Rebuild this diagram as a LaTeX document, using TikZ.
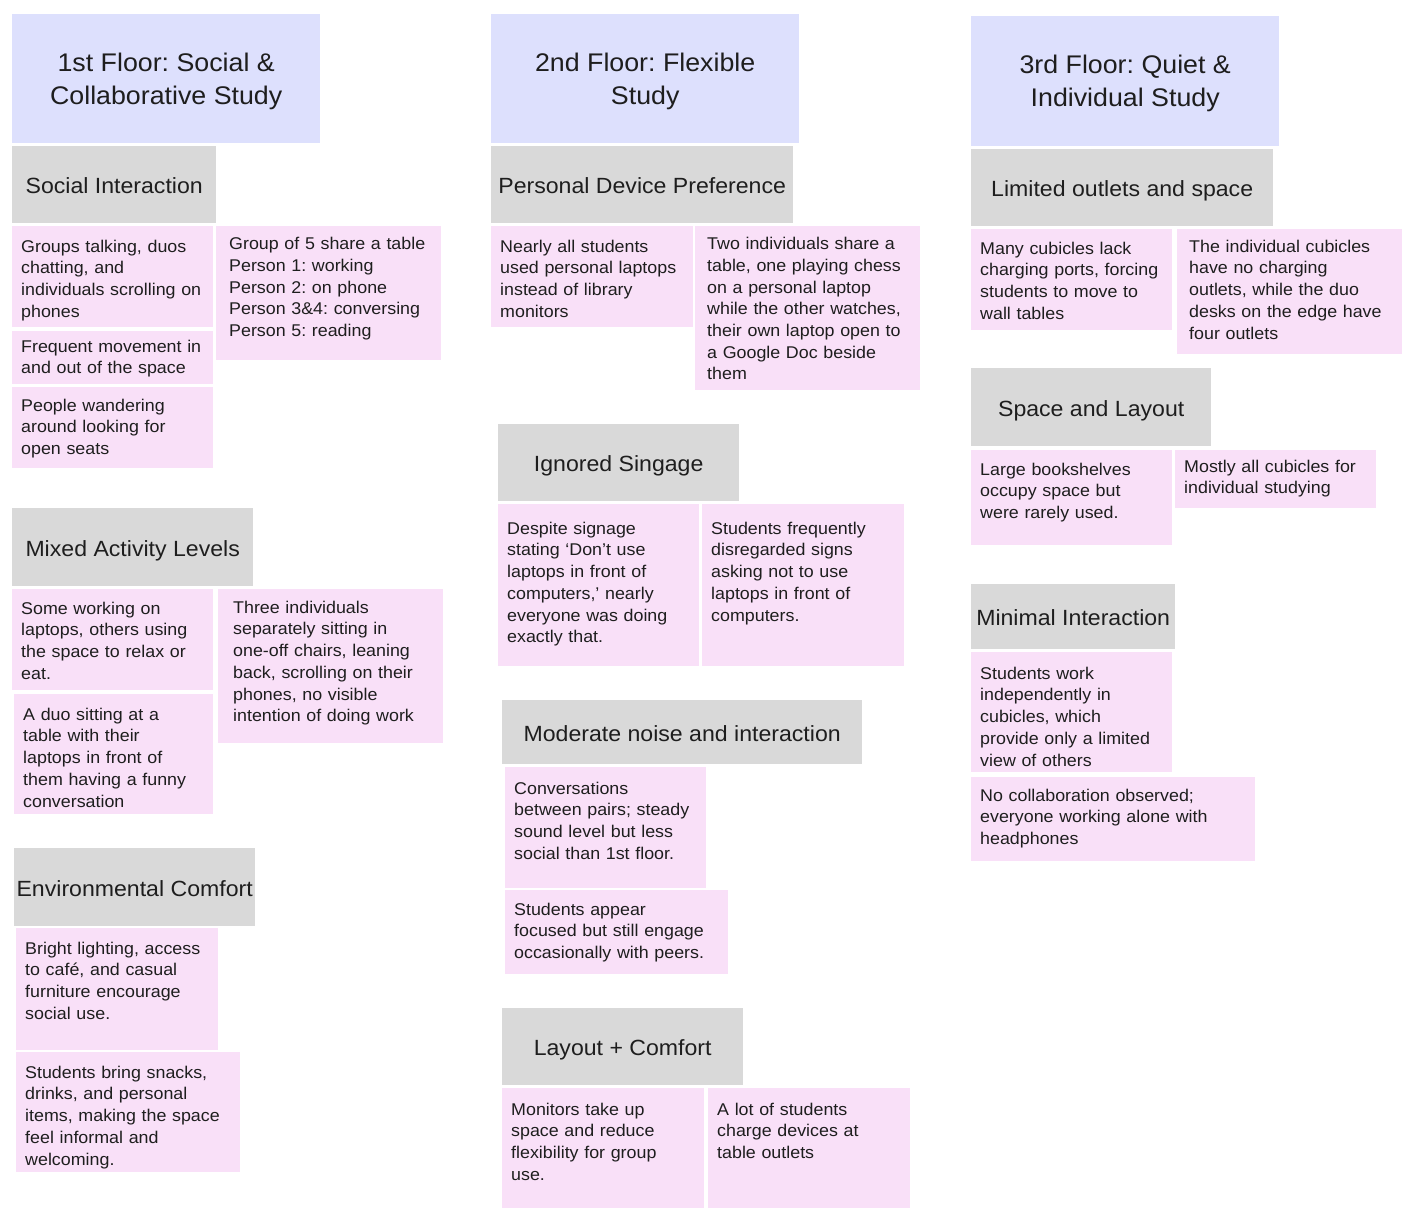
\documentclass[tikz,border=0pt]{standalone}
\usepackage{fontspec}
\setmainfont{Liberation Sans}[FakeStretch=1.05]
\usepackage{xcolor}
\usepackage{tikz}
\frenchspacing
\definecolor{floorblue}{HTML}{DDE0FD}
\definecolor{themegray}{HTML}{D9D9D9}
\definecolor{notepink}{HTML}{F9E0F8}
\definecolor{ink}{HTML}{1E1E1E}
\tikzset{
  floorbox/.style={rectangle, fill=floorblue, anchor=north west, inner sep=0pt, align=center,
                   text depth=-2.5pt, text=ink, font=\fontsize{25.5}{33}\selectfont},
  themebox/.style={rectangle, fill=themegray, anchor=north west, inner sep=0pt, align=center,
                   text height=19pt, text depth=1pt, text=ink, font=\fontsize{22}{27}\selectfont},
  notebox/.style={rectangle, fill=notepink, anchor=north west, inner xsep=9pt, inner ysep=0pt,
                  align=left, text height=25pt, text=ink, font=\fontsize{17}{21.7}\selectfont},
}

\begin{document}
\begin{tikzpicture}[x=1pt, y=-1pt]
  \useasboundingbox (0,0) rectangle (1416,1220);
  % floors
  \node[floorbox, minimum width=308pt, minimum height=129pt] (f1) at (12,14) {1st Floor: Social \&\\Collaborative Study};
  \node[floorbox, minimum width=308pt, minimum height=129pt] (f2) at (491,14) {2nd Floor: Flexible\\Study};
  \node[floorbox, minimum width=308pt, minimum height=130pt] (f3) at (971,16) {3rd Floor: Quiet \&\\Individual Study};
  % 1st floor
  \node[themebox, minimum width=204pt, minimum height=77pt] (h1) at (12,146) {Social Interaction};
  \node[notebox, text width=183pt, text height=26pt, text depth=75pt] (n1) at (12,226) {Groups talking, duos\\chatting, and\\individuals scrolling on\\phones};
  \node[notebox, text width=183pt, text height=21pt, text depth=32pt] (n2) at (12,331) {Frequent movement in\\and out of the space};
  \node[notebox, text width=183pt, text height=24pt, text depth=57pt] (n3) at (12,387) {People wandering\\around looking for\\open seats};
  \node[notebox, inner xsep=13pt, text width=199pt, text height=23.5pt, text depth=110.5pt] (n4) at (216,226) {Group of 5 share a table\\Person 1: working\\Person 2: on phone\\Person 3\&4: conversing\\Person 5: reading};
  \node[themebox, minimum width=241pt, minimum height=78pt] (h2) at (12,508) {Mixed Activity Levels};
  \node[notebox, text width=183pt, text depth=76pt] (n5) at (12,589) {Some working on\\laptops, others using\\the space to relax or\\eat.};
  \node[notebox, text width=181pt, text height=26pt, text depth=94pt] (n6) at (14,694) {A duo sitting at a\\table with their\\laptops in front of\\them having a funny\\conversation};
  \node[notebox, inner xsep=15pt, text width=195pt, text height=24pt, text depth=130pt] (n7) at (218,589) {Three individuals\\separately sitting in\\one-off chairs, leaning\\back, scrolling on their\\phones, no visible\\intention of doing work};
  \node[themebox, minimum width=241pt, minimum height=78pt] (h3) at (14,848) {Environmental Comfort};
  \node[notebox, text width=184pt, text height=26pt, text depth=96pt] (n8) at (16,928) {Bright lighting, access\\to café, and casual\\furniture encourage\\social use.};
  \node[notebox, text width=206pt, text height=26pt, text depth=94pt] (n9) at (16,1052) {Students bring snacks,\\drinks, and personal\\items, making the space\\feel informal and\\welcoming.};
  % 2nd floor
  \node[themebox, minimum width=302pt, minimum height=77pt] (h4) at (491,146) {Personal Device Preference};
  \node[notebox, text width=184pt, text height=26pt, text depth=75pt] (n10) at (491,226) {Nearly all students\\used personal laptops\\instead of library\\monitors};
  \node[notebox, inner xsep=12pt, text width=201pt, text height=23.5pt, text depth=140.5pt] (n11) at (695,226) {Two individuals share a\\table, one playing chess\\on a personal laptop\\while the other watches,\\their own laptop open to\\a Google Doc beside\\them};
  \node[themebox, minimum width=241pt, minimum height=77pt] (h5) at (498,424) {Ignored Singage};
  \node[notebox, text width=183pt, text height=30pt, text depth=132pt] (n12) at (498,504) {Despite signage\\stating ‘Don’t use\\laptops in front of\\computers,’ nearly\\everyone was doing\\exactly that.};
  \node[notebox, text width=184pt, text height=30pt, text depth=132pt] (n13) at (702,504) {Students frequently\\disregarded signs\\asking not to use\\laptops in front of\\computers.};
  \node[themebox, minimum width=360pt, minimum height=64pt] (h6) at (502,700) {Moderate noise and interaction};
  \node[notebox, text width=183pt, text height=27pt, text depth=94pt] (n14) at (505,767) {Conversations\\between pairs; steady\\sound level but less\\social than 1st floor.};
  \node[notebox, text width=205pt, text depth=59pt] (n15) at (505,890) {Students appear\\focused but still engage\\occasionally with peers.};
  \node[themebox, minimum width=241pt, minimum height=77pt] (h7) at (502,1008) {Layout + Comfort};
  \node[notebox, text width=184pt, text height=27pt, text depth=93pt] (n16) at (502,1088) {Monitors take up\\space and reduce\\flexibility for group\\use.};
  \node[notebox, text width=184pt, text height=27pt, text depth=93pt] (n17) at (708,1088) {A lot of students\\charge devices at\\table outlets};
  % 3rd floor
  \node[themebox, minimum width=302pt, minimum height=77pt] (h8) at (971,149) {Limited outlets and space};
  \node[notebox, text width=183pt, text depth=76pt] (n18) at (971,229) {Many cubicles lack\\charging ports, forcing\\students to move to\\wall tables};
  \node[notebox, inner xsep=12pt, text width=201pt, text height=23pt, text depth=102pt] (n19) at (1177,229) {The individual cubicles\\have no charging\\outlets, while the duo\\desks on the edge have\\four outlets};
  \node[themebox, minimum width=240pt, minimum height=78pt] (h9) at (971,368) {Space and Layout};
  \node[notebox, text width=183pt, text depth=70pt] (n20) at (971,450) {Large bookshelves\\occupy space but\\were rarely used.};
  \node[notebox, text width=183pt, text height=22pt, text depth=36pt] (n21) at (1175,450) {Mostly all cubicles for\\individual studying};
  \node[themebox, minimum width=204pt, minimum height=65pt] (h10) at (971,584) {Minimal Interaction};
  \node[notebox, text width=183pt, text height=27pt, text depth=93pt] (n22) at (971,652) {Students work\\independently in\\cubicles, which\\provide only a limited\\view of others};
  \node[notebox, text width=266pt, text height=24pt, text depth=60pt] (n23) at (971,777) {No collaboration observed;\\everyone working alone with\\headphones};
\end{tikzpicture}
\end{document}
